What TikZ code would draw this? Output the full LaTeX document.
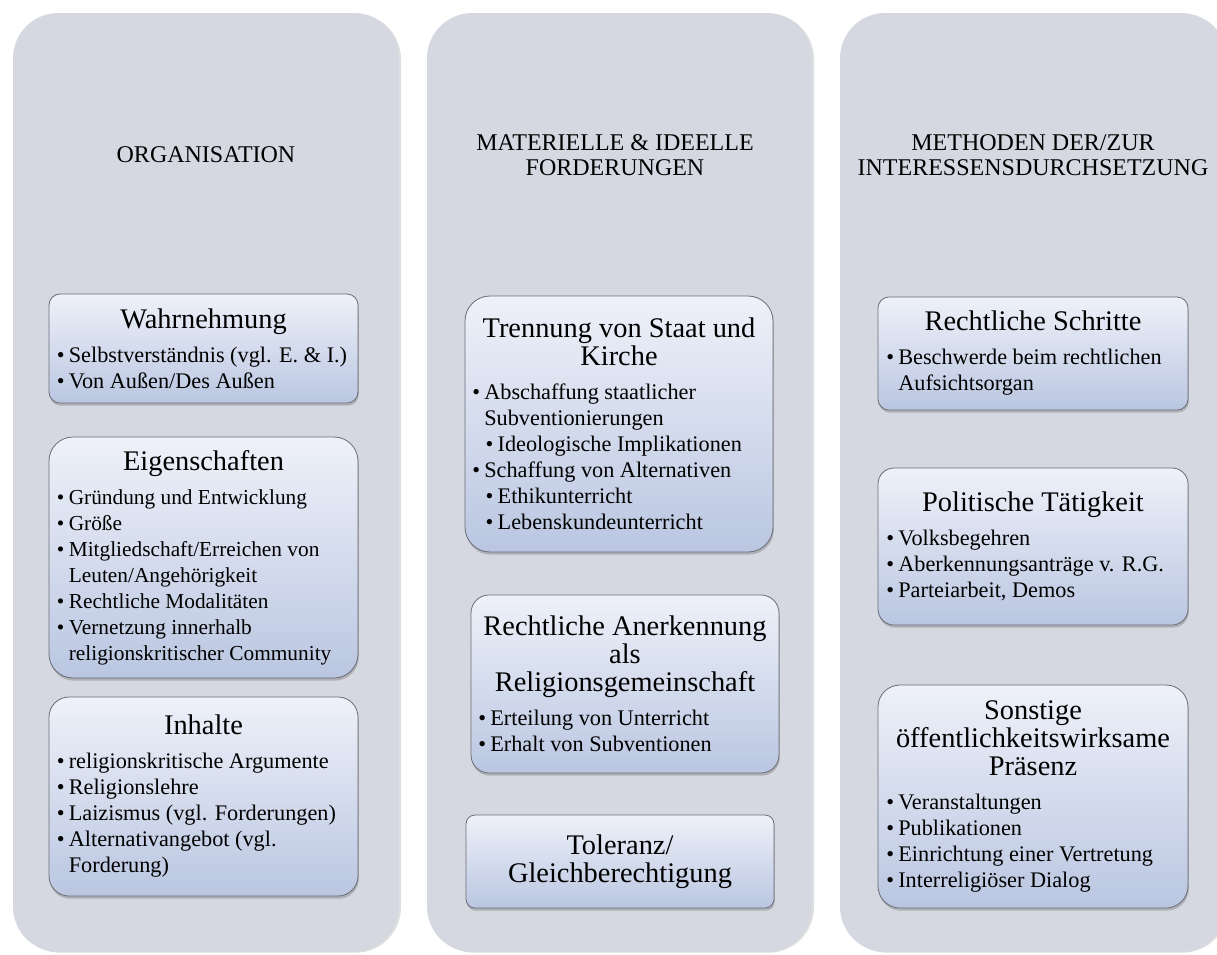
\documentclass[tikz,border=0pt]{standalone}
\usepackage{fontspec}
\setmainfont{Liberation Serif}
\usetikzlibrary{shadows}
\definecolor{colbg}{HTML}{D5D8E0}
\definecolor{boxtop}{HTML}{EEF1F9}
\definecolor{boxbot}{HTML}{BAC6E1}
\definecolor{boxline}{HTML}{6A6D76}
\newlength\bind \setlength\bind{9pt}
\newcommand\bitem[1]{\par\hangindent=\bind\hangafter=1\noindent\hbox to\bind{\textbullet\hfil}#1}
\newcommand\bsubitem[1]{\par\hangindent=\dimexpr\bind+10pt\relax\hangafter=1\noindent\hspace*{10pt}\hbox to\bind{\textbullet\hfil}#1}
\newcommand\ttl[1]{{\centering\fontsize{21.3}{21}\selectfont #1\par}\vspace{6pt}}
\newcommand\ttlonly[1]{{\centering\fontsize{21.3}{21}\selectfont #1\par}}
\tikzset{
  colbox/.style={fill=colbg, rounded corners=34pt, inner sep=0pt,
    drop shadow={shadow xshift=1.5pt, shadow yshift=-0.5pt, opacity=0.25, fill=black!50}},
  head/.style={align=center, font=\fontsize{18}{18.75}\selectfont, inner sep=0pt},
  ibox/.style={draw=boxline, line width=0.6pt, top color=boxtop, bottom color=boxbot,
    drop shadow={shadow xshift=0.6pt, shadow yshift=-2pt, opacity=0.35, fill=black!60},
    text width=220pt, align=flush left, inner xsep=0pt, inner ysep=0pt,
    font=\fontsize{16.7}{19.5}\selectfont},
}
\begin{document}
\begin{tikzpicture}[x=0.75pt, y=-0.75pt]
\useasboundingbox (0,0) rectangle (1217,954);
\clip (0,0) rectangle (1217,954);
\fill[white] (0,0) rectangle (1217,954);

% columns
\node[colbox, minimum width=289.5pt, minimum height=704.25pt] (c1) at (206,482.5) {};
\node[colbox, minimum width=288.75pt, minimum height=704.25pt] (c2) at (619.5,482.5) {};
\node[colbox, minimum width=289.5pt, minimum height=704.25pt] (c3) at (1033,482.5) {};

% headings
\node[head] (h1) at (206,155) {ORGANISATION};
\node[head] (h2) at (615,155.5) {MATERIELLE \& IDEELLE\\FORDERUNGEN};
\node[head] (h3) at (1033,155.5) {METHODEN DER/ZUR\\INTERESSENSDURCHSETZUNG};

% column 1
\node[ibox, rounded corners=8.25pt, minimum width=231.75pt, minimum height=81.75pt] (wahr) at (203.5,348.5) {%
\ttl{Wahrnehmung}
\bitem{Selbstverständnis (vgl. E. \& I.)}
\bitem{Von Außen/Des Außen}\par};

\node[ibox, rounded corners=18pt, minimum width=231.75pt, minimum height=180.75pt] (eig) at (203.5,557.5) {%
\ttl{Eigenschaften}
\fontsize{16}{19.5}\selectfont
\bitem{Gründung und Entwicklung}
\bitem{Größe}
\bitem{Mitgliedschaft/Erreichen von\newline Leuten/Angehörigkeit}
\bitem{Rechtliche Modalitäten}
\bitem{Vernetzung innerhalb\newline religionskritischer Community}\par};

\node[ibox, rounded corners=15pt, minimum width=231.75pt, minimum height=149.25pt] (inh) at (203.5,796.5) {%
\ttl{Inhalte}
\bitem{religionskritische Argumente}
\bitem{Religionslehre}
\bitem{Laizismus (vgl. Forderungen)}
\bitem{Alternativangebot (vgl.\newline Forderung)}\par\vspace{4pt}};

% column 2
\node[ibox, rounded corners=18.75pt, minimum width=231pt, minimum height=192pt] (tren) at (619,424) {%
\ttl{Trennung von Staat und\\Kirche}
\bitem{Abschaffung staatlicher\newline Subventionierungen}
\bsubitem{Ideologische Implikationen}
\bitem{Schaffung von Alternativen}
\bsubitem{Ethikunterricht}
\bsubitem{Lebenskundeunterricht}\par};

\node[ibox, rounded corners=13.5pt, minimum width=231pt, minimum height=133.5pt] (anerk) at (625,684) {%
\ttl{Rechtliche Anerkennung\\als\\Religionsgemeinschaft}
\bitem{Erteilung von Unterricht}
\bitem{Erhalt von Subventionen}\par\vspace{6pt}};

\node[ibox, rounded corners=6.75pt, minimum width=231pt, minimum height=69.75pt] (tol) at (620,861.5) {%
\ttlonly{Toleranz/\\Gleichberechtigung}};

% column 3
\node[ibox, rounded corners=8.25pt, minimum width=232.5pt, minimum height=84.75pt] (schr) at (1033,353.5) {%
\ttl{Rechtliche Schritte}
\bitem{Beschwerde beim rechtlichen\newline Aufsichtsorgan}\par\vspace{4pt}};

\node[ibox, rounded corners=12pt, minimum width=232.5pt, minimum height=117.75pt] (pol) at (1033,546.5) {%
\ttl{Politische Tätigkeit}
\bitem{Volksbegehren}
\bitem{Aberkennungsanträge v. R.G.}
\bitem{Parteiarbeit, Demos}\par\vspace{22pt}};

\node[ibox, rounded corners=16.5pt, minimum width=232.5pt, minimum height=167.25pt] (sons) at (1033,796.5) {%
\ttl{Sonstige\\öffentlichkeitswirksame\\Präsenz}
\bitem{Veranstaltungen}
\bitem{Publikationen}
\bitem{Einrichtung einer Vertretung}
\bitem{Interreligiöser Dialog}\par};
\end{tikzpicture}
\end{document}
